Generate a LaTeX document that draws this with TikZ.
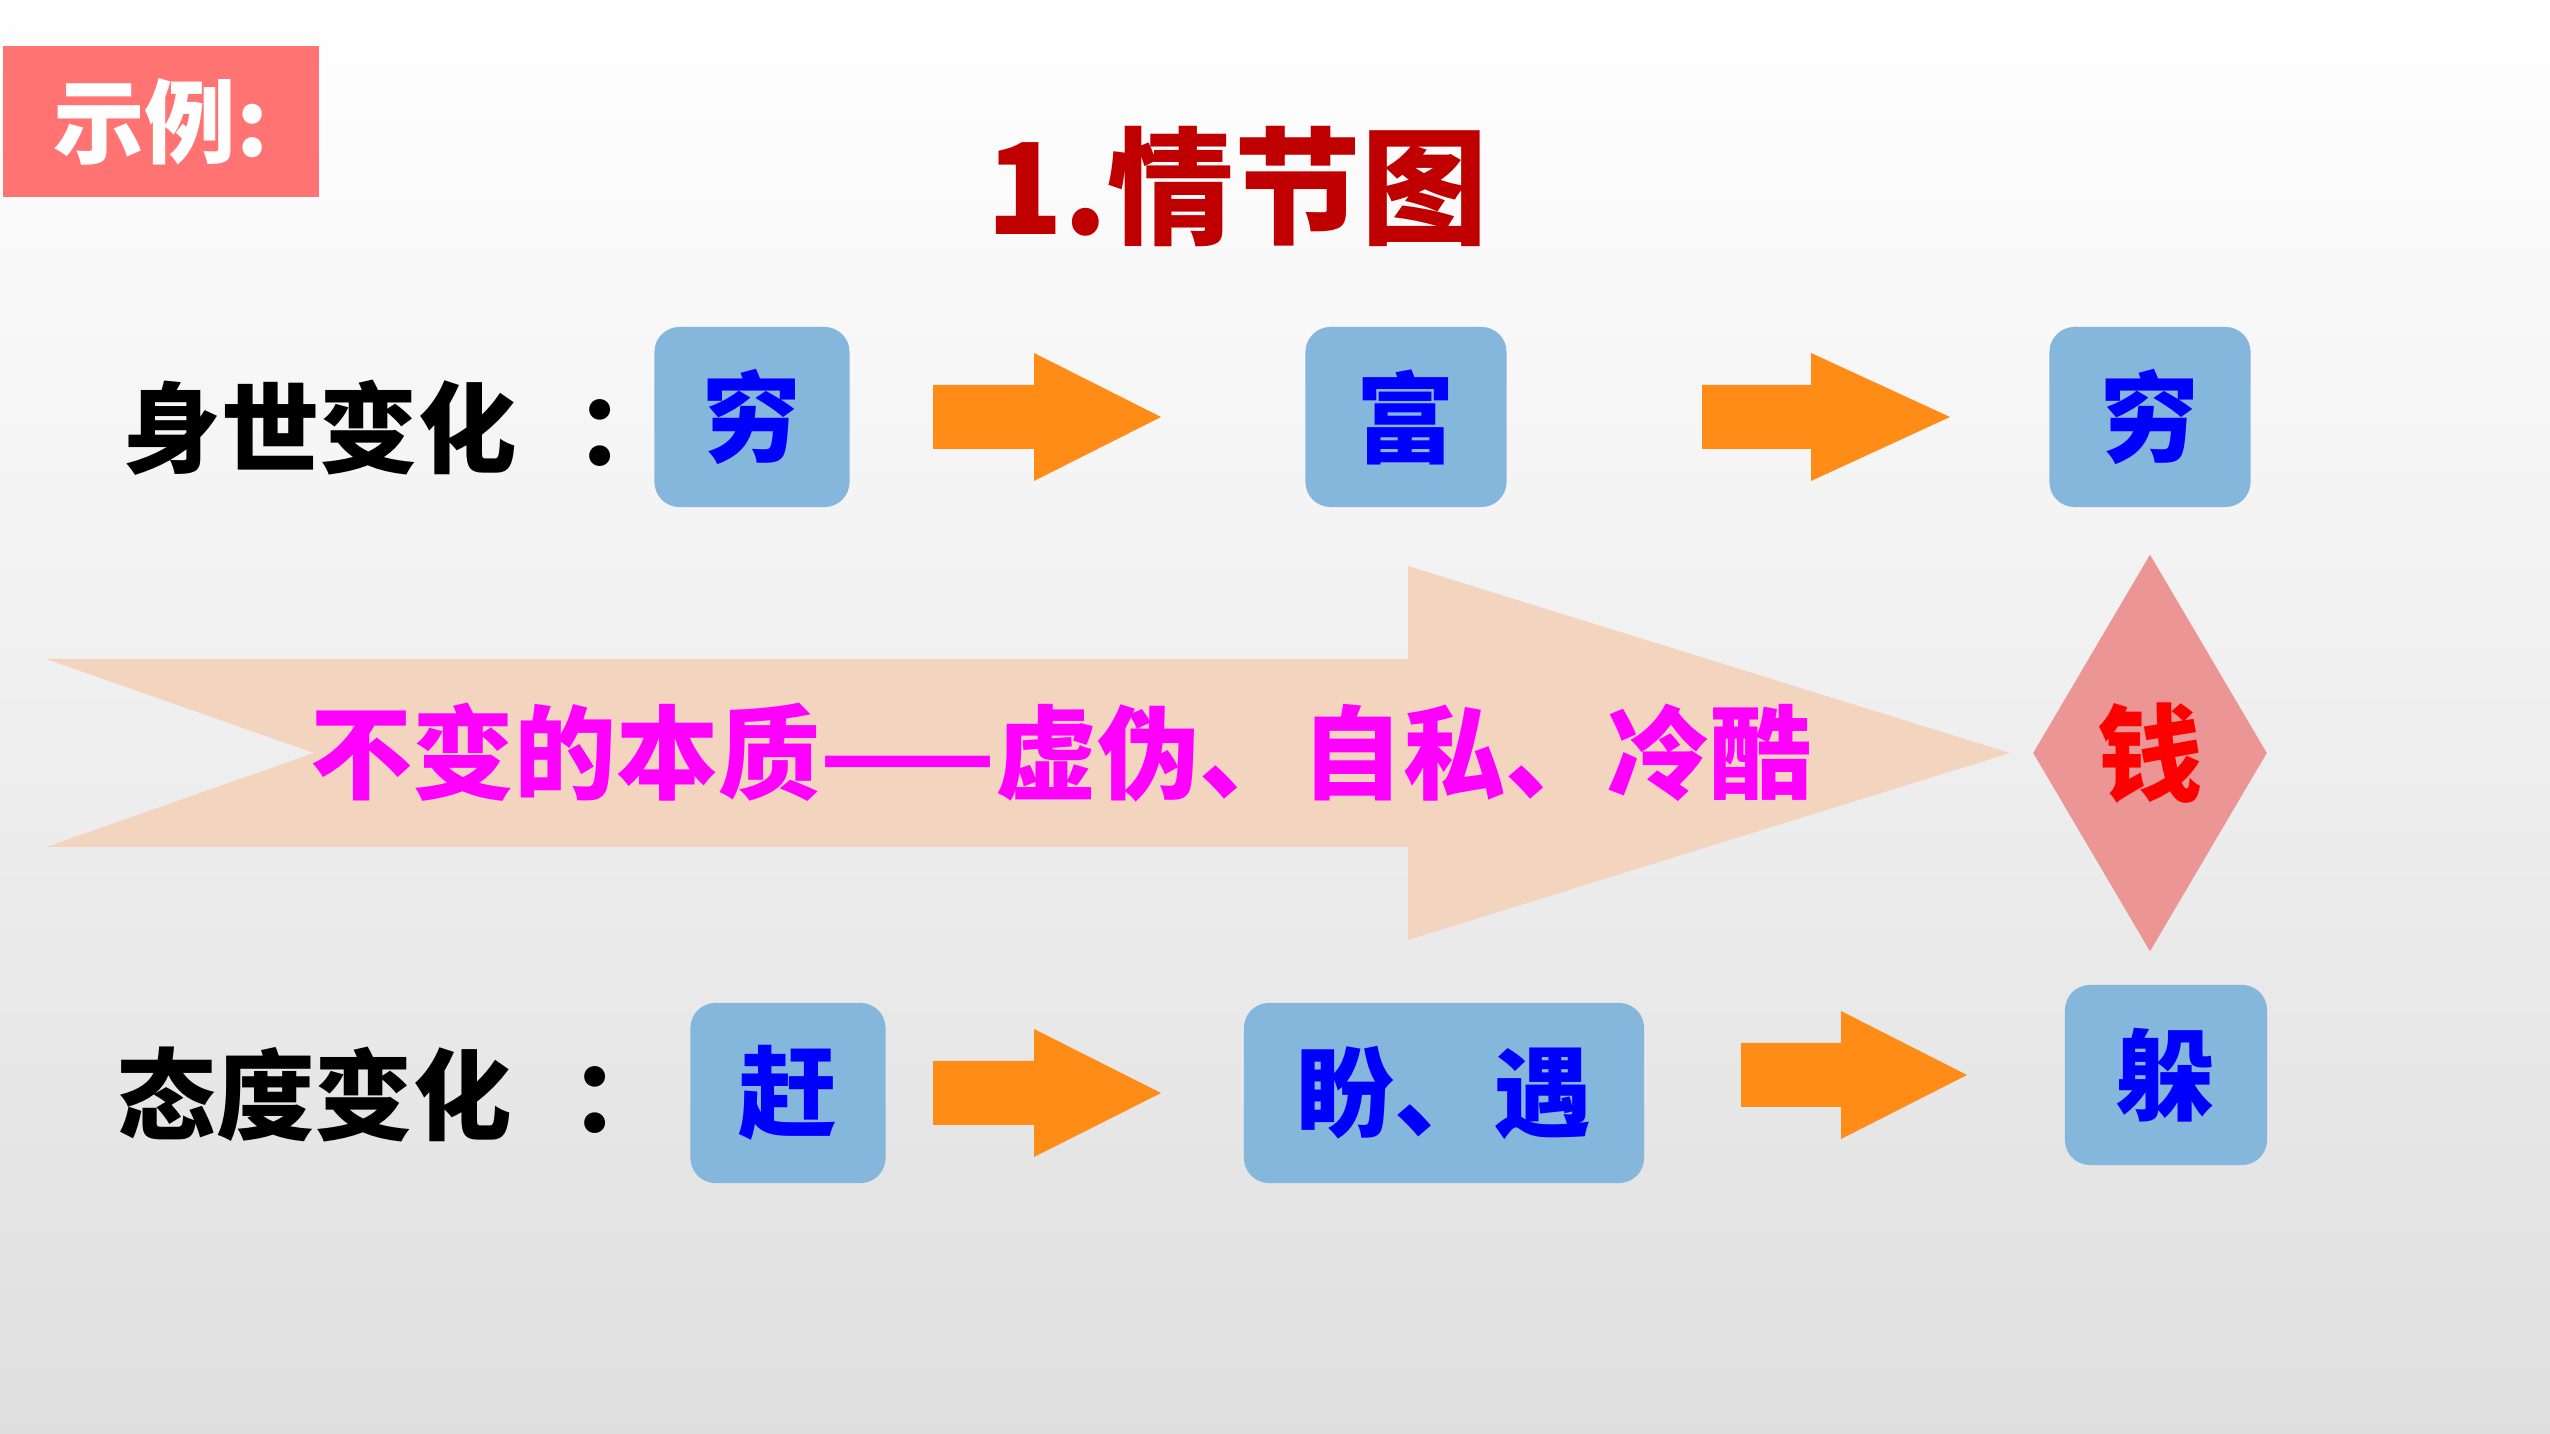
\documentclass[tikz,border=0pt]{standalone}
\usepackage{fontspec}
\newfontfamily\cjk{Noto Sans CJK SC}
\usetikzlibrary{shapes.geometric}

\definecolor{tagred}{HTML}{FF7373}
\definecolor{titlered}{HTML}{C00000}
\definecolor{boxblue}{HTML}{85B6DC}
\definecolor{floworange}{HTML}{FF8C16}
\definecolor{peach}{HTML}{F3D5BF}
\definecolor{rosy}{HTML}{EB9594}
\definecolor{inkblue}{HTML}{0000FF}
\definecolor{essence}{HTML}{FF00FF}

\newcommand{\cjkfont}[1]{\cjk\bfseries\fontsize{#1}{#1}\selectfont}
% left end, start of head, tip, middle height
\newcommand{\flowarrow}[4]{%
  \fill[floworange] (#1,#4-32) -- (#2,#4-32) -- (#2,#4-64) -- (#3,#4)
    -- (#2,#4+64) -- (#2,#4+32) -- (#1,#4+32) -- cycle;}

\tikzset{
  stagebox/.style={rectangle, rounded corners=0.25cm, fill=boxblue, text=inkblue,
    font=\cjkfont{28}, inner sep=0pt, minimum height=1.8cm},
  rowlabel/.style={anchor=west, inner sep=0pt, font=\cjkfont{28}},
}

\begin{document}
\begin{tikzpicture}[x=0.01cm, y=-0.01cm]
        \shade[top color=white, bottom color=gray!25] (0,0) rectangle (2550,1434);
        \useasboundingbox (0,0) rectangle (2550,1434);

        % tag and title
        \fill[tagred] (3,46) rectangle (319,197);
        \node (tag) at (161,122) [inner sep=0pt, text=white, font=\cjkfont{26}] {示例:};
        \node (title) at (1237,187) [inner sep=0pt, text=titlered, font=\cjkfont{36}] {1.情节图};

        % the big arrow
        \fill[peach] (46,659) -- (1408,659) -- (1408,566) -- (2010,753) -- (1408,940)
                -- (1408,847) -- (46,847) -- (314,753) -- cycle;
        \node (core) at (1061,753) [inner sep=0pt, text=essence, font=\cjkfont{29}]
                {不变的本质——虚伪、自私、冷酷};
        \node (money) at (2150,753) [diamond, fill=rosy, inner sep=0pt,
                minimum width=2.34cm, minimum height=3.97cm,
                text=red, font=\cjkfont{30}] {钱};

        % first row
        \node (fate) at (122,428) [rowlabel] {身世变化\hspace{0.6em}：};
        \node (poor1) at (752,417) [stagebox, minimum width=1.95cm] {穷};
        \node (rich) at (1406,417) [stagebox, minimum width=2.01cm] {富};
        \node (poor2) at (2150,417) [stagebox, minimum width=2.01cm] {穷};
        \flowarrow{933}{1034}{1161}{417}
        \flowarrow{1702}{1811}{1950}{417}

        % second row
        \node (mood) at (117,1094) [rowlabel] {态度变化\hspace{0.6em}：};
        \node (chase) at (788,1093) [stagebox, minimum width=1.95cm] {赶};
        \node (hope) at (1444,1093) [stagebox, minimum width=4.0cm] {盼、遇};
        \node (hide) at (2166,1075) [stagebox, minimum width=2.02cm] {躲};
        \flowarrow{933}{1034}{1161}{1093}
        \flowarrow{1741}{1841}{1967}{1075}
    \end{tikzpicture}
\end{document}
